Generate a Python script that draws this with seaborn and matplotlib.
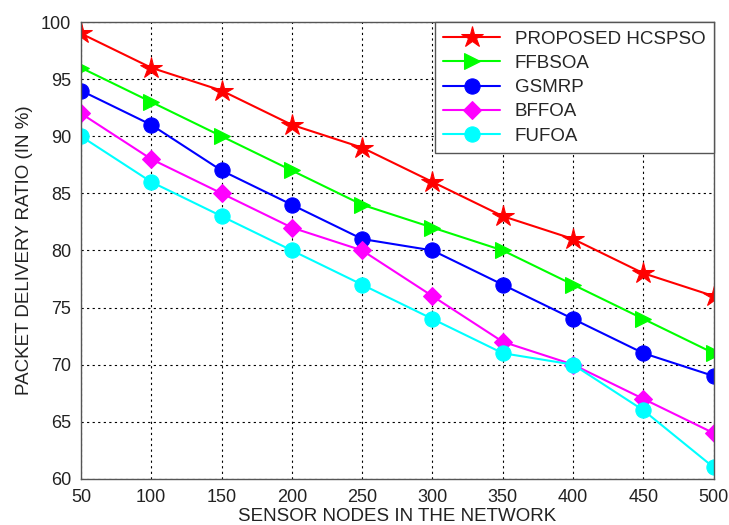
import pandas as pd
import matplotlib
matplotlib.use('Agg')
import matplotlib.pyplot as plt
import seaborn as sns

# Data
nodes = [50, 100, 150, 200, 250, 300, 350, 400, 450, 500]
hcspso = [99, 96, 94, 91, 89, 86, 83, 81, 78, 76]
ffbsoa = [96, 93, 90, 87, 84, 82, 80, 77, 74, 71]
gsmrp = [94, 91, 87, 84, 81, 80, 77, 74, 71, 69]
bffoa = [92, 88, 85, 82, 80, 76, 72, 70, 67, 64]
fufoa = [90, 86, 83, 80, 77, 74, 71, 70, 66, 61]

names = ['PROPOSED HCSPSO', 'FFBSOA', 'GSMRP', 'BFFOA', 'FUFOA']
series = [hcspso, ffbsoa, gsmrp, bffoa, fufoa]
colors = ['#ff0000', '#00ff00', '#0000ff', '#ff00ff', '#00ffff']
markers = ['*', '>', 'o', 'D', 'o']
msizes = [16, 12, 11, 9, 11]

df = pd.concat([pd.DataFrame({'nodes': nodes, 'pdr': v, 'method': n})
                for n, v in zip(names, series)])

sns.set_style('white')
plt.rcParams['font.family'] = ['Liberation Sans', 'DejaVu Sans']

fig, ax = plt.subplots(figsize=(7.29, 5.25), dpi=100)
fig.subplots_adjust(left=0.111, right=0.979, top=0.958, bottom=0.088)

for n, c, m, ms in zip(names, colors, markers, msizes):
    sns.lineplot(data=df[df['method'] == n], x='nodes', y='pdr', ax=ax,
                 color=c, marker=m, markersize=ms, markeredgecolor=c,
                 linewidth=1.5, label=n)

ax.set_xlim(50, 500)
ax.set_ylim(60, 100)
ax.set_xticks(nodes)
ax.set_yticks(range(60, 101, 5))
ax.tick_params(labelsize=13, colors='#222222', direction='in', length=4, pad=7)
ax.grid(True, linestyle=(0, (2, 3)), color='black', linewidth=0.8)
for s in ax.spines.values():
    s.set_color('#555555')
    s.set_linewidth(1)

ax.set_xlabel('SENSOR NODES IN THE NETWORK', fontsize=13.5, color='#222222', labelpad=2)
ax.set_ylabel('PACKET DELIVERY RATIO (IN %)', fontsize=13.5, color='#222222', labelpad=6)

leg = ax.legend(loc='upper right', fontsize=13.5, frameon=True, fancybox=False,
                borderaxespad=0, handlelength=3.0, labelspacing=0.38,
                borderpad=0.45, framealpha=1)
leg.get_frame().set_edgecolor('#555555')
leg.get_frame().set_linewidth(1)

plt.savefig('out.png', dpi=100)
